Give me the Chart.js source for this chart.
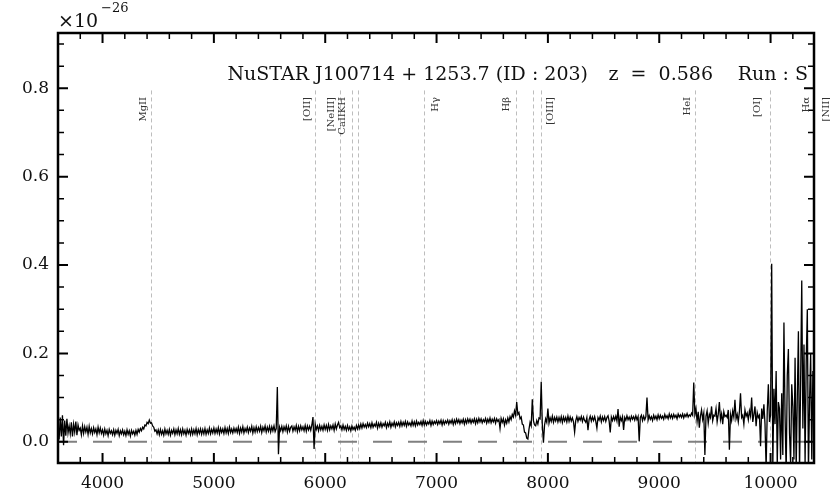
<!DOCTYPE html>
<html>
<head>
<meta charset="utf-8">
<script src="https://cdn.jsdelivr.net/npm/chart.js@4.4.1/dist/chart.umd.min.js"></script>
<style>
  html, body { margin: 0; padding: 0; background: #fff; }
  #spec { display: block; }
</style>
</head>
<body>
<canvas id="spec" width="830" height="498"></canvas>
<script>
// spectrum grid (Angstrom, observed frame)
const waveStart = 3600;
const waveStep = 10;
// flux, in units of 0.001 x 1e-26
const flux = [
  42, 5, 55, 12, 60, -8, 48, 14, 52, 20,      // 3600
  36, 18, 44, 12, 40, 22, 46, 15, 38, 26,     // 3700
  31, 16, 36, 19, 34, 22, 33, 17, 35, 20,     // 3800
  30, 18, 32, 21, 29, 16, 33, 20, 31, 19,     // 3900
  27, 15, 29, 18, 26, 14, 28, 19, 25, 16,     // 4000
  27, 15, 26, 19, 28, 14, 25, 18, 27, 16,     // 4100
  24, 14, 27, 17, 25, 13, 26, 18, 24, 15,     // 4200
  26, 17, 28, 22, 30, 25, 33, 29, 38, 36,     // 4300
  44, 41, 49, 42, 43, 36, 33, 24, 27, 18,     // 4400
  27, 16, 28, 17, 25, 15, 29, 18, 26, 17,     // 4500
  28, 15, 26, 19, 29, 16, 27, 18, 30, 17,     // 4600
  27, 16, 29, 18, 26, 15, 28, 19, 27, 16,     // 4700
  29, 17, 27, 18, 30, 16, 28, 19, 29, 17,     // 4800
  28, 18, 30, 17, 27, 19, 31, 18, 28, 20,     // 4900
  31, 19, 29, 20, 32, 18, 30, 21, 29, 19,     // 5000
  32, 20, 30, 19, 33, 21, 29, 20, 31, 22,     // 5100
  30, 21, 33, 19, 31, 22, 34, 20, 30, 23,     // 5200
  33, 21, 31, 24, 35, 20, 32, 22, 34, 23,     // 5300
  32, 24, 35, 21, 33, 25, 36, 22, 33, 24,     // 5400
  35, 22, 34, 25, 36, 23, 30, 124, -28, 33,   // 5500
  25, 35, 23, 34, 26, 36, 22, 35, 24, 33,     // 5600
  36, 24, 34, 26, 37, 23, 35, 25, 36, 27,     // 5700
  34, 25, 37, 24, 36, 27, 35, 26, 38, 56,     // 5800
  -16, 40, 28, 36, 25, 37, 27, 35, 26, 38,    // 5900
  28, 37, 26, 39, 27, 36, 29, 38, 26, 40,     // 6000
  29, 38, 44, 32, 36, 27, 38, 28, 35, 26,     // 6100
  37, 27, 34, 25, 36, 28, 33, 26, 37, 29,     // 6200
  38, 30, 40, 31, 41, 33, 39, 32, 42, 34,     // 6300
  41, 32, 43, 33, 40, 35, 44, 31, 42, 34,     // 6400
  43, 33, 41, 36, 44, 32, 42, 35, 45, 33,     // 6500
  42, 36, 45, 34, 43, 37, 44, 35, 46, 36,     // 6600
  44, 37, 46, 35, 45, 38, 43, 36, 47, 37,     // 6700
  45, 36, 47, 38, 44, 39, 46, 37, 48, 38,     // 6800
  46, 38, 45, 40, 48, 37, 47, 39, 46, 41,     // 6900
  48, 39, 47, 41, 49, 38, 48, 40, 47, 42,     // 7000
  49, 40, 48, 42, 50, 39, 49, 41, 51, 43,     // 7100
  50, 41, 49, 43, 51, 40, 50, 42, 52, 44,     // 7200
  51, 42, 50, 44, 52, 41, 51, 43, 53, 45,     // 7300
  52, 43, 50, 45, 53, 42, 51, 44, 54, 43,     // 7400
  51, 45, 53, 42, 52, 46, 50, 30, 53, 44,     // 7500
  52, 38, 50, 42, 54, 45, 57, 50, 62, 56,     // 7600
  70, 60, 90, 62, 66, 52, 56, 40, 38, 22,     // 7700
  20, 8, 6, 28, 44, 36, 96, 48, 38, 36,       // 7800
  48, 40, 54, 52, 136, 38, -2, 38, 52, 44,    // 7900
  75, 42, 54, 46, 58, 44, 55, 47, 56, 45,     // 8000
  55, 46, 57, 44, 56, 47, 55, 45, 58, 46,     // 8100
  56, 47, 54, 45, 22, 48, 57, 46, 55, 49,     // 8200
  57, 46, 56, 48, 44, 55, 26, 50, 58, 47,     // 8300
  56, 48, 57, 46, 31, 55, 49, 58, 45, 56,     // 8400
  48, 57, 46, 55, 59, 47, 21, 56, 48, 57,     // 8500
  49, 58, 47, 74, 34, 56, 48, 57, 27, 55,     // 8600
  49, 59, 50, 56, 48, 58, 51, 57, 49, 59,     // 8700
  50, 57, 1, 55, 60, 48, 58, 50, 57, 100,     // 8800
  49, 59, 51, 57, 48, 60, 52, 58, 50, 61,     // 8900
  52, 60, 53, 58, 51, 62, 54, 59, 52, 63,     // 9000
  54, 61, 53, 62, 55, 60, 52, 63, 56, 61,     // 9100
  55, 63, 54, 62, 57, 64, 56, 61, 58, 65,     // 9200
  60, 134, 62, 75, 46, 68, 32, 58, 72, 51,    // 9300
  65, -30, 58, 70, 42, 62, 55, 80, 48, 60,    // 9400
  58, 75, 45, 62, 90, 50, 63, 40, 68, 57,     // 9500
  60, 55, 72, -18, 62, 48, 70, 56, 95, 52,    // 9600
  62, 45, 68, 110, 55, 60, 40, 72, 58, 65,    // 9700
  50, 70, 58, 100, 45, 62, 80, 35, 66, 55,    // 9800
  60, -10, 75, 52, 85, 40, -60, 68, 130, 45,  // 9900
  60, 403, -60, 120, 40, 160, -50, 90, 75, -40,   // 10000
  110, -30, 270, 60, -70, 150, 210, 20, -50, 130, // 10100
  80, -40, 190, -60, 100, 250, -70, 140, 365, 30, // 10200
  220, -50, 180, 300, -70, 90, 200, -40, 160, 120 // 10300
];

const redshift = 0.586;
const lineRest = [2798, 3727, 3869, 3934, 3969, 4340, 4861, 4959, 5007, 5876, 6300, 6563, 6583];
const lineLabels = ['MgII', '[OII]', '[NeIII]', 'CaIIKH', '', 'H\u03b3', 'H\u03b2', '', '[OIII]', 'HeI', '[OI]', 'H\u03b1', '[NII]'];

const xTicks = [4000, 5000, 6000, 7000, 8000, 9000, 10000];
const yTicks = [0.0, 0.2, 0.4, 0.6, 0.8];
const xMin = 3600, xMax = 10390;
const yMin = -0.048, yMax = 0.925;

const titleParts = ['NuSTAR J100714 + 1253.7 (ID : 203)', 'z  =  0.586', 'Run : S'];

const serif = '"DejaVu Serif", "Liberation Serif", serif';

// px shift of each label from its line (labels sit beside the dashed line)
const labelShift = [-7.5, -7.5, -9, -9, 0, 12, -9.5, 0, 9.5, -7.5, -12, -9.5, 7];

const decor = {
  id: 'decor',
  beforeDatasetsDraw(chart) {
    const {ctx, chartArea: a, scales: {x, y}} = chart;
    ctx.save();
    ctx.beginPath();
    ctx.rect(a.left, a.top, a.right - a.left, a.bottom - a.top);
    ctx.clip();
    ctx.strokeStyle = '#bdbdbd';
    ctx.lineWidth = 1;
    ctx.setLineDash([4, 3]);
    const top = y.getPixelForValue(0.795);
    lineRest.forEach(w => {
      const px = Math.round(x.getPixelForValue(w * (1 + redshift))) + 0.5;
      ctx.beginPath();
      ctx.moveTo(px, top);
      ctx.lineTo(px, a.bottom);
      ctx.stroke();
    });
    ctx.restore();
  },
  afterDraw(chart) {
    const {ctx, chartArea: a, scales: {x, y}} = chart;
    ctx.save();

    // inward ticks on all four sides
    const tick = (px, len, w, vertical) => {
      ctx.lineWidth = w;
      ctx.beginPath();
      if (vertical) {
        ctx.moveTo(px, a.bottom); ctx.lineTo(px, a.bottom - len);
        ctx.moveTo(px, a.top); ctx.lineTo(px, a.top + len);
      } else {
        ctx.moveTo(a.left, px); ctx.lineTo(a.left + len, px);
        ctx.moveTo(a.right, px); ctx.lineTo(a.right - len, px);
      }
      ctx.stroke();
    };
    ctx.strokeStyle = '#000';
    for (let v = 3800; v <= xMax; v += 200) {
      const major = v % 1000 === 0;
      tick(x.getPixelForValue(v), major ? 10 : 6, major ? 2 : 1.5, true);
    }
    for (let k = 0; k <= 18; k++) {
      const major = k % 4 === 0;
      tick(y.getPixelForValue(k * 0.05), major ? 10 : 6, major ? 2 : 1.5, false);
    }

    // frame
    ctx.lineWidth = 2.5;
    ctx.strokeRect(a.left, a.top, a.right - a.left, a.bottom - a.top);

    // line labels
    ctx.fillStyle = '#333';
    ctx.font = '10px ' + serif;
    ctx.textAlign = 'right';
    ctx.textBaseline = 'middle';
    lineLabels.forEach((lab, i) => {
      if (!lab) return;
      const px = x.getPixelForValue(lineRest[i] * (1 + redshift)) + labelShift[i];
      ctx.save();
      ctx.translate(px, 97);
      ctx.rotate(-Math.PI / 2);
      ctx.fillText(lab, 0, 0);
      ctx.restore();
    });

    // title inside the axes, three groups
    ctx.fillStyle = '#111';
    ctx.textBaseline = 'alphabetic';
    ctx.font = '19px ' + serif;
    ctx.textAlign = 'right';
    ctx.fillText(titleParts[0], 588, 80);
    ctx.fillText(titleParts[1], 713, 80);
    ctx.fillText(titleParts[2], a.right - 6, 80);

    // offset multiplier
    ctx.textAlign = 'left';
    ctx.fillText('\u00d710', a.left, 27);
    ctx.font = '13px ' + serif;
    ctx.fillText('\u221226', a.left + 43, 12);
    ctx.restore();
  }
};

const points = flux.map((f, i) => ({x: waveStart + i * waveStep, y: f / 1000}));

new Chart(document.getElementById('spec'), {
  type: 'line',
  data: {
    datasets: [
      {
        data: points,
        borderColor: '#000',
        borderWidth: 1.3,
        pointRadius: 0,
        tension: 0,
        order: 0
      },
      {
        data: [{x: xMin, y: 0}, {x: xMax, y: 0}],
        borderColor: '#808080',
        borderWidth: 2,
        borderDash: [19, 16],
        pointRadius: 0,
        order: 1
      }
    ]
  },
  options: {
    responsive: false,
    animation: false,
    devicePixelRatio: 1,
    layout: { padding: { left: 0, right: 16, top: 33, bottom: 0 } },
    plugins: { legend: { display: false }, tooltip: { enabled: false } },
    scales: {
      x: {
        type: 'linear',
        min: xMin,
        max: xMax,
        grid: { display: false, drawTicks: false },
        border: { display: false },
        afterBuildTicks: s => { s.ticks = xTicks.map(v => ({value: v})); },
        afterFit: s => { s.height = 35; },
        ticks: {
          font: { family: serif, size: 17 },
          color: '#111',
          padding: 10,
          maxRotation: 0,
          autoSkip: false,
          callback: v => String(v)
        }
      },
      y: {
        type: 'linear',
        min: yMin,
        max: yMax,
        grid: { display: false, drawTicks: false },
        border: { display: false },
        afterBuildTicks: s => { s.ticks = yTicks.map(v => ({value: v})); },
        afterFit: s => { s.width = 58; },
        ticks: {
          font: { family: serif, size: 17 },
          color: '#111',
          padding: 9,
          autoSkip: false,
          callback: v => v.toFixed(1)
        }
      }
    }
  },
  plugins: [decor]
});
</script>
</body>
</html>
